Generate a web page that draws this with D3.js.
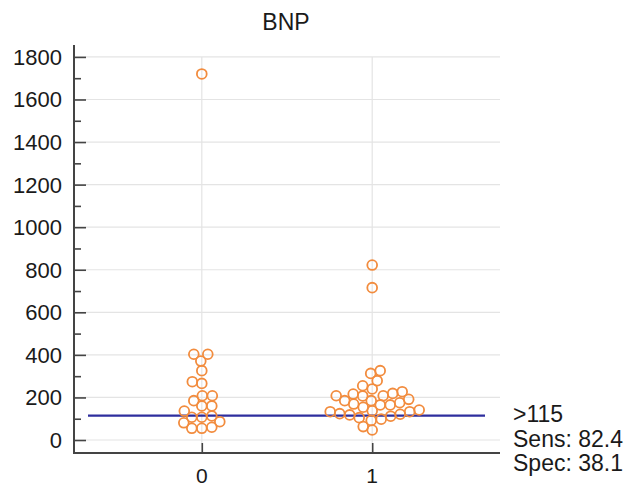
<!DOCTYPE html>
<html>
<head>
<meta charset="utf-8">
<script src="https://cdn.jsdelivr.net/npm/d3@7"></script>
<style>
  html, body { margin: 0; padding: 0; background: #fff; }
  svg { display: block; font-family: "Liberation Sans", Arial, sans-serif; }
</style>
</head>
<body>
<svg id="chart" width="633" height="486"></svg>
<script>
// ---- data ----
const title = "BNP";
const categories = ["0", "1"];
const group0 = [1720, 403, 403, 371, 326, 274, 266, 208, 208, 185, 160, 160, 136,
                113, 107, 107, 86, 81, 60, 55, 55];
const group1 = [822, 716, 326, 313, 279, 255, 240, 227, 219, 216, 208, 208, 207, 191,
                185, 185, 175, 169, 165, 165, 154, 141, 138, 133, 133,
                124, 121, 118, 112, 105, 98, 92, 63, 47];
const seriesValues = [group0, group1];
const yTicks = [0, 200, 400, 600, 800, 1000, 1200, 1400, 1600, 1800];
const yMinorTicks = [100, 300, 500, 700, 900, 1100, 1300, 1500, 1700];
const cutoff = 115;
const cutoffLabels = [">115", "Sens: 82.4", "Spec: 38.1"];

// ---- layout ----
const svg = d3.select("#chart");
const plot = { left: 74, right: 500, top: 45, bottom: 453 };
const y = d3.scaleLinear().domain([-61, 1856]).range([plot.bottom, plot.top]);
const x = d3.scalePoint().domain(categories).range([plot.left, plot.right]).padding(0.75);

const axisColor = "#444";
const gridColor = "#e4e4e4";
const dotColor = "#f28c3e";
const lineColor = "#2e2e9e";

// grid lines
svg.append("g").selectAll("line").data(yTicks).join("line")
  .attr("x1", plot.left).attr("x2", plot.right)
  .attr("y1", d => y(d)).attr("y2", d => y(d))
  .attr("stroke", gridColor).attr("stroke-width", 1.2);
svg.append("g").selectAll("line").data(categories).join("line")
  .attr("x1", d => x(d)).attr("x2", d => x(d))
  .attr("y1", y(1800)).attr("y2", plot.bottom)
  .attr("stroke", gridColor).attr("stroke-width", 1.2);

// y axis (ticks inside)
const yAxis = d3.axisRight(y).tickValues(yTicks).tickSize(12).tickFormat("");
const gy = svg.append("g").attr("transform", `translate(${plot.left},0)`).call(yAxis);
gy.select(".domain").remove();
gy.selectAll(".tick line").attr("stroke", axisColor).attr("stroke-width", 1.6);
const yAxisMinor = d3.axisRight(y).tickValues(yMinorTicks).tickSize(7).tickFormat("");
const gym = svg.append("g").attr("transform", `translate(${plot.left},0)`).call(yAxisMinor);
gym.select(".domain").remove();
gym.selectAll(".tick line").attr("stroke", axisColor).attr("stroke-width", 1.6);
svg.append("g").selectAll("text").data(yTicks).join("text")
  .attr("x", 62).attr("y", d => y(d)).attr("dy", "0.36em")
  .attr("text-anchor", "end").attr("font-size", 22).attr("fill", "#1a1a1a")
  .text(d => d);

// x axis (ticks inside)
const xAxis = d3.axisTop(x).tickSize(10).tickFormat("");
const gx = svg.append("g").attr("transform", `translate(0,${plot.bottom})`).call(xAxis);
gx.select(".domain").remove();
gx.selectAll(".tick line").attr("stroke", axisColor).attr("stroke-width", 1.6);
svg.append("g").selectAll("text").data(categories).join("text")
  .attr("x", d => x(d)).attr("y", 483)
  .attr("text-anchor", "middle").attr("font-size", 21).attr("fill", "#1a1a1a")
  .text(d => d);

// axis lines
svg.append("line").attr("x1", plot.left).attr("x2", plot.left)
  .attr("y1", plot.top).attr("y2", plot.bottom + 1)
  .attr("stroke", axisColor).attr("stroke-width", 2);
svg.append("line").attr("x1", plot.left - 1).attr("x2", plot.right)
  .attr("y1", plot.bottom).attr("y2", plot.bottom)
  .attr("stroke", axisColor).attr("stroke-width", 2);

// cutoff line
svg.append("line").attr("x1", 88).attr("x2", 485)
  .attr("y1", y(cutoff)).attr("y2", y(cutoff))
  .attr("stroke", lineColor).attr("stroke-width", 2.2);

// beeswarm dodge layout
const r = 4.9, minDist = 9.6, step = 0.5;
function dodge(values, cx) {
  const placed = [];
  const sorted = values.slice().sort((a, b) => a - b);
  for (const v of sorted) {
    const py = y(v);
    let off = 0;
    for (let k = 0; k < 400; k++) {
      const cand = (k % 2 === 0 ? 1 : -1) * Math.ceil(k / 2) * step;
      const ok = placed.every(p => (p.x - (cx + cand)) ** 2 + (p.y - py) ** 2 >= minDist * minDist);
      if (ok) { off = cand; break; }
    }
    placed.push({ x: cx + off, y: py, v });
  }
  return placed;
}
seriesValues.forEach((vals, i) => {
  const pts = dodge(vals, x(categories[i]));
  svg.append("g").selectAll("circle").data(pts).join("circle")
    .attr("cx", d => d.x).attr("cy", d => d.y).attr("r", r)
    .attr("fill", "none").attr("stroke", dotColor).attr("stroke-width", 1.8);
});

// title
svg.append("text").attr("x", 286).attr("y", 30).attr("text-anchor", "middle")
  .attr("font-size", 23).attr("fill", "#1a1a1a").text(title);

// cutoff labels
const lblY = [422, 447, 471];
svg.append("g").selectAll("text").data(cutoffLabels).join("text")
  .attr("x", 513).attr("y", (d, i) => lblY[i])
  .attr("font-size", 23).attr("fill", "#1a1a1a").text(d => d);
</script>
</body>
</html>
